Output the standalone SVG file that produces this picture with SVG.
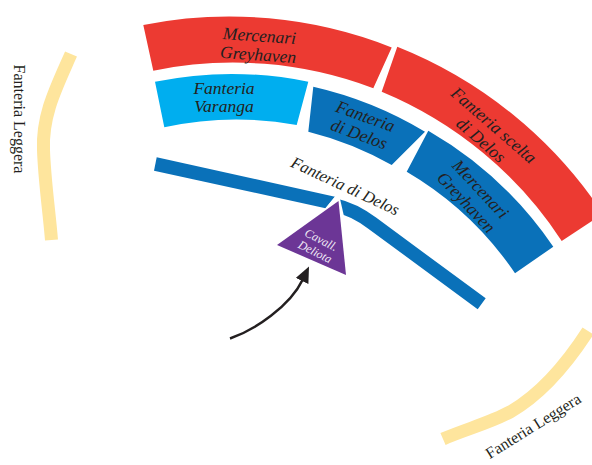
<svg xmlns="http://www.w3.org/2000/svg" width="592" height="465" viewBox="0 0 592 465">
<defs>
<style>
.red{fill:#ec3a32}
.cyan{fill:#00aeef}
.blue{fill:#0a71b9}
.lab{font-family:"Liberation Serif","DejaVu Serif",serif;font-style:italic;font-size:17.5px;fill:#231f20;text-anchor:middle}
.light{fill:none;stroke:#fee59d;stroke-width:13}
.leg{font-family:"Liberation Serif","DejaVu Serif",serif;font-size:16px;fill:#231f20;text-anchor:middle}
.line-lab{font-family:"Liberation Serif","DejaVu Serif",serif;font-style:italic;font-size:16.5px;fill:#231f20;text-anchor:middle}
</style>
<marker id="ah" markerUnits="userSpaceOnUse" viewBox="0 0 16 14" markerWidth="16" markerHeight="14" refX="1" refY="7" orient="auto">
<path d="M0,0 L16,7 L0,14 Z" fill="#231f20"/>
</marker>
</defs>
<rect width="592" height="465" fill="#ffffff"/>

<g id="leggera-left">
<path class="light" d="M71,54 C56,88 42,115 43.5,150 C44.5,180 49,210 51.5,240"/>
<text class="leg" transform="translate(14,119) rotate(90)">Fanteria Leggera</text>
</g>

<g id="leggera-right">
<path class="light" d="M588,331 C566,365 540,395 510,412 C490,423 466,429 443,439"/>
<text class="leg" transform="translate(536,430.5) rotate(-32)">Fanteria Leggera</text>
</g>

<g id="mercenari-greyhaven-red">
<path class="red" d="M143.3,25 A442,442 0 0 1 391.7,47.5 L373.3,88.3 A396,396 0 0 0 153.3,70.7 Z"/>
<text class="lab" transform="translate(259,43) rotate(4)"><tspan x="0" y="-1.5">Mercenari</tspan><tspan x="0" y="17.5">Greyhaven</tspan></text>
</g>

<g id="fanteria-scelta">
<path class="red" d="M397.3,46.7 A443,443 0 0 1 603,213.8 L561.7,241 A396,396 0 0 0 381.7,91.7 Z"/>
<text class="lab" transform="translate(487,133) rotate(41)"><tspan x="0" y="-4.5">Fanteria scelta</tspan><tspan x="0" y="15">di Delos</tspan></text>
</g>

<g id="fanteria-varanga">
<path class="cyan" d="M155,81.7 A384,384 0 0 1 308.3,81.7 L296.7,125 A339,339 0 0 0 164.3,127.3 Z"/>
<text class="lab" x="224" y="93.5">Fanteria</text>
<text class="lab" x="224" y="112">Varanga</text>
</g>

<g id="fanteria-delos">
<path class="blue" d="M313.3,86.7 A381,381 0 0 1 425,131.7 L391.7,165 A335,335 0 0 0 308.3,131.7 Z"/>
<text class="lab" transform="translate(362,126) rotate(20)"><tspan x="0" y="-4.5">Fanteria</tspan><tspan x="0" y="14.5">di Delos</tspan></text>
</g>

<g id="mercenari-greyhaven-blue">
<path class="blue" d="M428.3,130.7 A382,382 0 0 1 553.3,246.7 L515,273.3 A336,336 0 0 0 406.7,171.7 Z"/>
<text class="lab" transform="translate(473,196) rotate(47)"><tspan x="0" y="-4.5">Mercenari</tspan><tspan x="0" y="15">Greyhaven</tspan></text>
</g>

<g id="linea-delos">
<polygon class="blue" points="156.7,157.3 335,196.7 325.5,208.3 154,170.7"/>
<path d="M335,205.1 C350,208.5 360,214 372,223 L481.7,303.8" fill="none" stroke="#0a71b9" stroke-width="13.5"/>
<polygon fill="#ffffff" points="337.4,193.6 338.8,193.6 343.7,215 338.5,222 323,211.3"/>
<text class="line-lab" transform="translate(343,191) rotate(25)">Fanteria di Delos</text>
</g>

<g id="cavalleria-deliota">
<polygon fill="#6c3696" points="338.5,201 277,245 346,275"/>
<text transform="translate(318,246) rotate(27)" font-family="Liberation Serif, DejaVu Serif, serif" font-style="italic" font-size="12" fill="#f1ebf7" text-anchor="middle"><tspan x="0" y="-3">Cavall.</tspan><tspan x="0" y="10.5">Deliota</tspan></text>
</g>

<g id="connectors">
<path d="M230,338.5 C255,330 290,306 302.5,280" fill="none" stroke="#231f20" stroke-width="2.5" marker-end="url(#ah)"/>
</g>
</svg>
